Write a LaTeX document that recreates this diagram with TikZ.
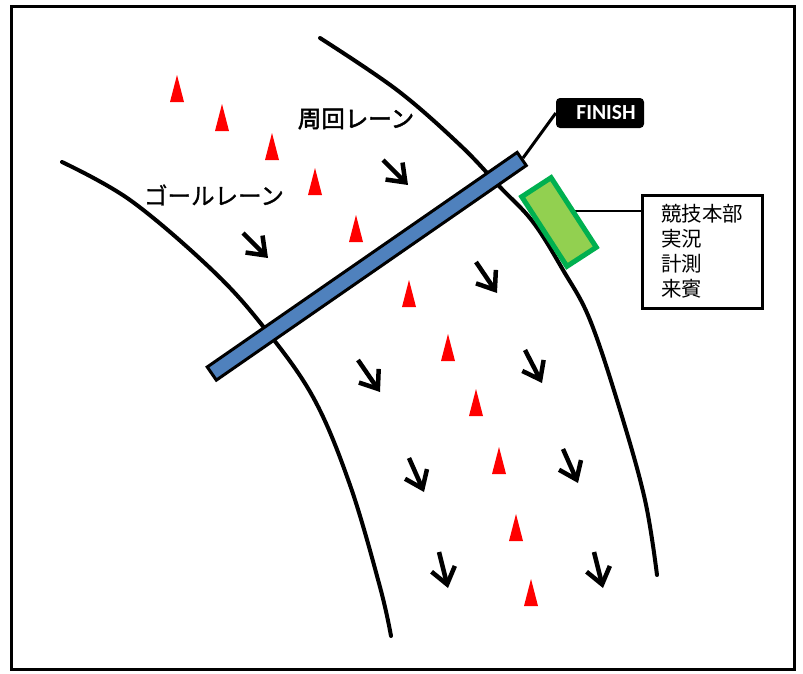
\documentclass[tikz,border=0pt]{standalone}
\usepackage{fontspec}
\newfontfamily\jp{Noto Sans CJK JP}
\newfontfamily\jplabel{Noto Sans CJK JP}[FakeBold=1.2]
\newfontfamily\jplabelb{Noto Sans CJK JP}[FakeBold=2.2]
\newfontfamily\carlito{Carlito}
\usetikzlibrary{arrows.meta,backgrounds}
\begin{document}
\begin{tikzpicture}[x=1pt,y=-1pt,
  lane/.style={line width=4pt, line cap=round},
  flowarrow/.style={line width=4.5pt, -{Straight Barb[length=16pt,width=24pt,line width=4.5pt]}},
  cone/.style={fill=red, draw=none},
  barbox/.style={draw=black, line width=3pt, fill={rgb,255:red,79;green,129;blue,189}, minimum width=377pt, minimum height=16pt, inner sep=0pt},
  hqbox/.style={draw={rgb,255:red,0;green,176;blue,80}, line width=5pt, fill={rgb,255:red,146;green,208;blue,80}, minimum width=83pt, minimum height=35pt, inner sep=0pt},
  infobox/.style={draw=black, line width=3pt, fill=white, minimum width=120pt, minimum height=113pt, text width=82pt, inner xsep=19pt, align=left, font=\jp\fontsize{20.5}{25}\selectfont},
  finishbox/.style={fill=black, rounded corners=4pt, minimum width=88pt, minimum height=30pt, inner sep=0pt, text=white, font=\carlito\bfseries\fontsize{21.5}{22}\selectfont},
  lanelabel/.style={font=\jplabel\fontsize{23.5}{24}\selectfont, inner sep=0pt},
  connector/.style={line width=2pt}
]
\useasboundingbox (0,0) rectangle (803,673);

% lanes
\draw[lane] plot[smooth, tension=0.6] coordinates {(62,162) (130,200) (210,268) (262,325) (313,397) (350,485) (380,587) (391,636)};
\draw[lane] plot[smooth, tension=0.6] coordinates {(320,38) (397,90) (460,145) (500,187) (533,222) (563,270) (590,320) (620,410) (645,500) (657,575)};

% cones
\foreach \cx/\cy in {177/102, 222/131, 272/160, 315/195, 356/242, 409/307, 448/361, 476/416, 499/474, 516/541, 531/606}
  \fill[cone] (\cx-7,\cy) -- (\cx,\cy-27) -- (\cx+7,\cy) -- cycle;

% labels
\node[lanelabel, font=\jplabelb\fontsize{23.5}{24}\selectfont] (lap) at (356,119) {周回レーン};
\node[lanelabel] (goal) at (214,195) {ゴールレーン};

% flow arrows
\coordinate (a1s) at (383,160); \coordinate (a1e) at (408,185);
\coordinate (a2s) at (243,233); \coordinate (a2e) at (268,258);
\coordinate (a3s) at (476,262); \coordinate (a3e) at (497,293);
\coordinate (a4s) at (358,360); \coordinate (a4e) at (380,392);
\coordinate (a5s) at (525,350); \coordinate (a5e) at (542,383);
\coordinate (a6s) at (409,458); \coordinate (a6e) at (424,492);
\coordinate (a7s) at (563,449); \coordinate (a7e) at (578,483);
\coordinate (a8s) at (439,552); \coordinate (a8e) at (448,588);
\coordinate (a9s) at (594,552); \coordinate (a9e) at (603,588);
\foreach \i in {1,...,9} \draw[flowarrow] (a\i s) -- (a\i e);

% finish line and label
\node[finishbox] (finish) at (600,113) {\hspace*{12pt}FINISH};
\node[barbox, rotate=34.7] (bar) at (366.75,266.25) {};
% HQ tent and info
\node[infobox] (info) at (702,251.5) {競技本部\\実況\\計測\\来賓};
\node[hqbox, rotate=-57] (hq) at (559,222) {};

\begin{pgfonlayer}{background}
  \fill[white] (0,0) rectangle (803,673);
  \draw[line width=3pt] (11,6) rectangle (794,669);
  \draw[connector, line width=3pt] (bar.east) -- (finish.west);
  \draw[connector] (hq.center) -- (hq.center |- hq.north) -- (hq.north -| info.west);
\end{pgfonlayer}
\end{tikzpicture}
\end{document}
